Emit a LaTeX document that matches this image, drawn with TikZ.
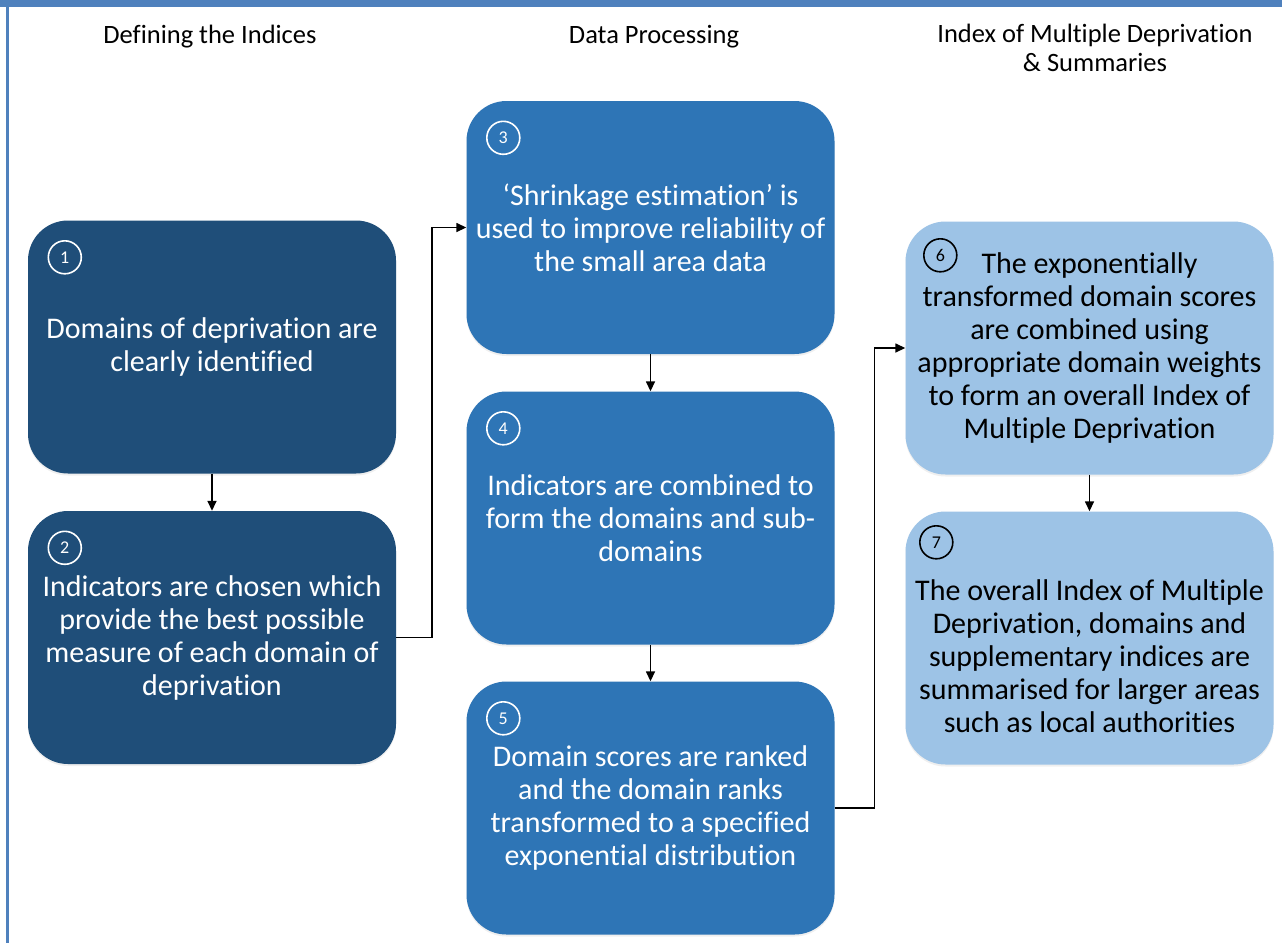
\documentclass[tikz,border=0pt]{standalone}
\usepackage{fontspec}
\setmainfont{Carlito}[Ligatures=NoCommon]
\usetikzlibrary{arrows.meta,shadows}
\definecolor{darkb}{HTML}{1F4E79}
\definecolor{midb}{HTML}{2E75B6}
\definecolor{lightb}{HTML}{9DC3E6}
\definecolor{frameb}{HTML}{4F81BD}
\tikzset{
  box/.style={rectangle,rounded corners=40pt,minimum width=368pt,minimum height=253pt,inner sep=0pt,
    drop shadow={shadow xshift=0pt,shadow yshift=-2pt,opacity=0.12,fill=black!50}},
  boxtext/.style={align=center,font=\fontsize{30}{33}\selectfont,inner sep=0pt},
  numw/.style={circle,draw=white,line width=1.6pt,minimum size=33pt,inner sep=0pt,text=white,font=\fontsize{18}{18}\selectfont},
  numb/.style={circle,draw=black,line width=1.6pt,minimum size=33pt,inner sep=0pt,text=black,font=\fontsize{18}{18}\selectfont},
  header/.style={align=center,font=\fontsize{26.5}{29}\selectfont,inner sep=0pt},
  arr/.style={line width=1.5pt,-{Triangle[length=10pt,width=9pt]}}
}
\begin{document}
\begin{tikzpicture}[x=1pt,y=-1pt]
\path[use as bounding box,fill=white] (0,0) rectangle (1282,943);
% frame
\fill[frameb] (0,0) rectangle (1282,7);
\fill[frameb] (5.5,0) rectangle (8.5,943);
% headers
\node[header] (h1) at (210,37) {Defining the Indices};
\node[header] (h2) at (654,37) {Data Processing};
\node[header] (h3) at (1095,47.5) {Index of Multiple Deprivation\\\& Summaries};
% boxes
\node[box,fill=darkb] (b1) at (212,347) {};
\node[box,fill=darkb] (b2) at (212,637.5) {};
\node[box,fill=midb] (b3) at (650.5,227.5) {};
\node[box,fill=midb] (b4) at (650.5,518) {};
\node[box,fill=midb] (b5) at (650.5,808) {};
\node[box,fill=lightb] (b6) at (1089.5,348) {};
\node[box,fill=lightb] (b7) at (1089.5,638) {};
% numbers
\node[numw] (n1) at ([xshift=37pt,yshift=-37pt]b1.north west) {1};
\node[numw] (n2) at ([xshift=37pt,yshift=-37pt]b2.north west) {2};
\node[numw] (n3) at ([xshift=37pt,yshift=-37pt]b3.north west) {3};
\node[numw] (n4) at ([xshift=37pt,yshift=-37pt]b4.north west) {4};
\node[numw] (n5) at ([xshift=37pt,yshift=-37pt]b5.north west) {5};
\node[numb] (n6) at ([xshift=35pt,yshift=-34pt]b6.north west) {6};
\node[numb] (n7) at ([xshift=31pt,yshift=-31pt]b7.north west) {7};
% texts
\node[boxtext,text=white] (t1) at (b1.center) {Domains of deprivation are\\clearly identified};
\node[boxtext,text=white] (t2) at (b2.center) {Indicators are chosen which\\provide the best possible\\measure of each domain of\\deprivation};
\node[boxtext,text=white] (t3) at (b3.center) {‘Shrinkage estimation’ is\\used to improve reliability of\\the small area data};
\node[boxtext,text=white] (t4) at (b4.center) {Indicators are combined to\\form the domains and sub-\\domains};
\node[boxtext,text=white] (t5) at (b5.center) {Domain scores are ranked\\and the domain ranks\\transformed to a specified\\exponential distribution};
\node[boxtext,text=black] (t6) at (b6.center) {The exponentially\\transformed domain scores\\are combined using\\appropriate domain weights\\to form an overall Index of\\Multiple Deprivation};
\node[boxtext,text=black] (t7) at ([yshift=-18pt]b7.center) {The overall Index of Multiple\\Deprivation, domains and\\supplementary indices are\\summarised for larger areas\\such as local authorities};
% connectors
\draw[arr] (b1.south) -- (b2.north);
\draw[arr] (b2.east) -- ++(36,0) |- (b3.west);
\draw[arr] (b3.south) -- (b4.north);
\draw[arr] (b4.south) -- (b5.north);
\draw[arr] (b5.east) -- ++(40,0) |- (b6.west);
\draw[arr] (b6.south) -- (b7.north);
\end{tikzpicture}
\end{document}
